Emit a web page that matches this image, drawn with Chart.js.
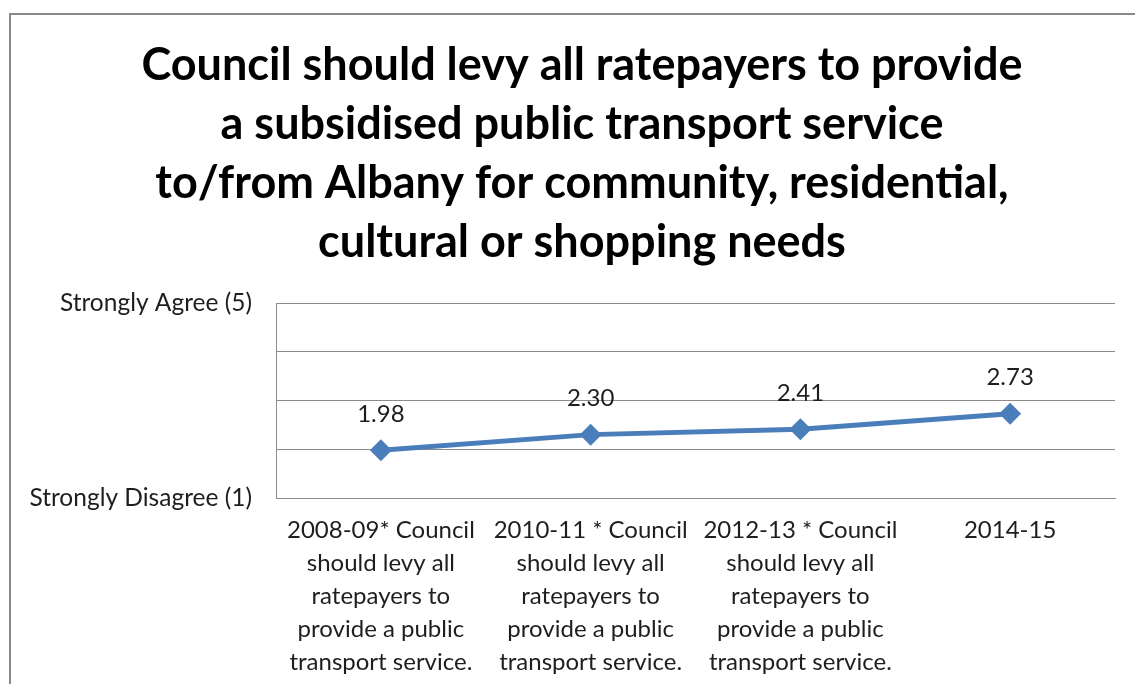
<!DOCTYPE html>
<html>
<head>
<meta charset="utf-8">
<script src="https://cdn.jsdelivr.net/npm/chart.js@4.4.1/dist/chart.umd.min.js"></script>
<style>
  html, body { margin: 0; padding: 0; background: #fff; overflow: hidden; }
  #wrap { position: relative; width: 1135px; height: 684px; }
</style>
</head>
<body>
<div id="wrap"><canvas id="chart" width="1135" height="684"></canvas></div>
<script>
// Survey periods shown along the bottom axis (one array entry per line of text)
const categories = [
  ['2008-09* Council', 'should levy all', 'ratepayers to', 'provide a public', 'transport service.'],
  ['2010-11 * Council', 'should levy all', 'ratepayers to', 'provide a public', 'transport service.'],
  ['2012-13 * Council', 'should levy all', 'ratepayers to', 'provide a public', 'transport service.'],
  ['2014-15']
];

// Mean agreement score for each period
const meanScores = [1.98, 2.30, 2.41, 2.73];

// Text shown on the value axis
const scaleLabels = { 5: 'Strongly Agree (5)', 1: 'Strongly Disagree (1)' };

const titleLines = [
  'Council should levy all ratepayers to provide',
  'a subsidised public transport service',
  'to/from Albany for community, residential,',
  'cultural or shopping needs'
];

const FONT = 'Lato, "Open Sans", sans-serif';
const LINE_BLUE = '#4a7ebb';
const GRID_GREY = '#8c8c8c';
const TEXT_DARK = '#1e1e1e';

// Outer frame of the chart object; the title is centred on the full frame width
const framePlugin = {
  id: 'frame',
  afterLayout(chart) {
    const t = chart.titleBlock;
    if (t) { t.left += 24.5; t.right += 24.5; }
  },
  beforeDraw(chart) {
    const ctx = chart.ctx;
    ctx.save();
    ctx.strokeStyle = '#8a8a8a';
    ctx.lineWidth = 2;
    ctx.strokeRect(10, 14, 1400, 900);
    ctx.restore();
  }
};

// Value labels above each marker
const valueLabelPlugin = {
  id: 'valueLabels',
  afterDatasetsDraw(chart) {
    const ctx = chart.ctx;
    const meta = chart.getDatasetMeta(0);
    const values = chart.data.datasets[0].data;
    ctx.save();
    ctx.font = '24px ' + FONT;
    ctx.fillStyle = TEXT_DARK;
    ctx.textAlign = 'center';
    ctx.textBaseline = 'middle';
    meta.data.forEach((pt, i) => {
      ctx.fillText(values[i].toFixed(2), pt.x, pt.y - 36);
    });
    ctx.restore();
  }
};

new Chart(document.getElementById('chart'), {
  type: 'line',
  data: {
    labels: categories,
    datasets: [{
      data: meanScores,
      borderColor: LINE_BLUE,
      backgroundColor: LINE_BLUE,
      borderWidth: 5,
      pointStyle: 'rectRot',
      pointRadius: 11,
      pointHoverRadius: 11,
      pointBorderWidth: 0,
      tension: 0
    }]
  },
  options: {
    responsive: false,
    animation: false,
    events: [],
    layout: { padding: { left: 0, right: 20, top: 0, bottom: 0 } },
    plugins: {
      legend: { display: false },
      tooltip: { enabled: false },
      title: {
        display: true,
        text: titleLines,
        color: '#000',
        font: { family: FONT, size: 45, weight: 'bold', lineHeight: 59 / 45 },
        padding: { top: 36, bottom: 31 }
      }
    },
    scales: {
      x: {
        offset: true,
        grid: { display: false, drawTicks: false },
        border: { display: true, color: GRID_GREY, width: 1 },
        ticks: {
          color: TEXT_DARK,
          font: { family: FONT, size: 24, lineHeight: 33 / 24 },
          padding: 16,
          maxRotation: 0,
          autoSkip: false
        },
        afterFit(scale) { scale.height = 186; }
      },
      y: {
        min: 1,
        max: 5,
        grid: { color: GRID_GREY, lineWidth: 1, drawTicks: false },
        border: { display: true, color: GRID_GREY, width: 1 },
        ticks: {
          stepSize: 1,
          color: TEXT_DARK,
          padding: 24,
          font: { family: FONT, size: 24.5 },
          callback: (v) => scaleLabels[v] || ''
        },
        afterFit(scale) { scale.width = 276; }
      }
    }
  },
  plugins: [framePlugin, valueLabelPlugin]
});
</script>
</body>
</html>
